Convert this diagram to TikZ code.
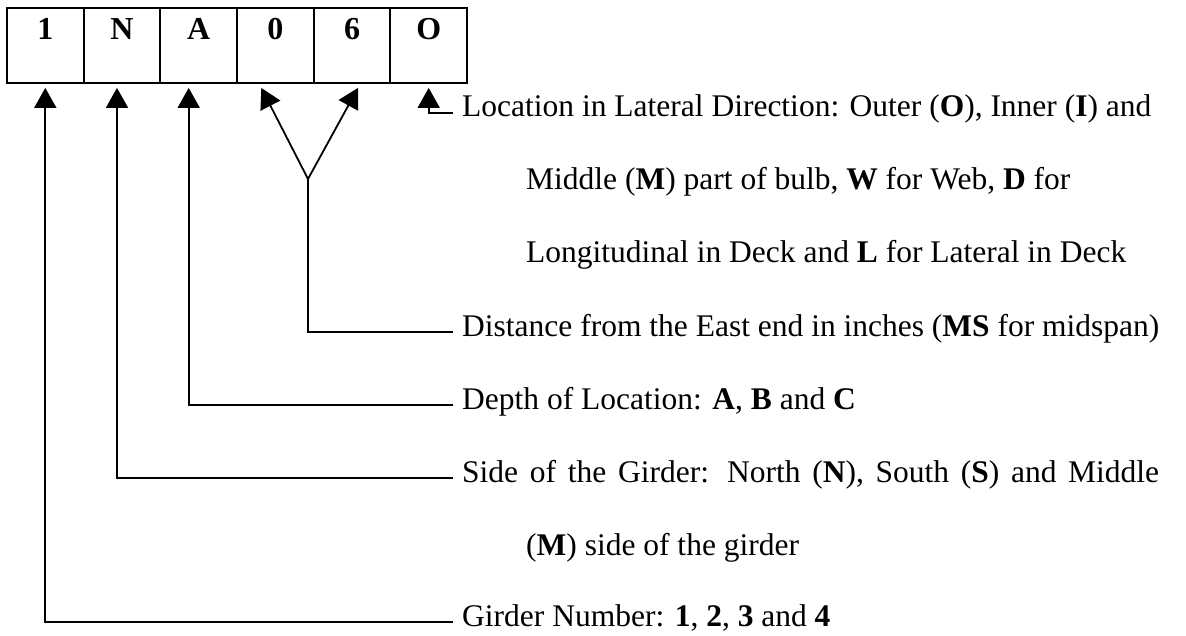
\documentclass[tikz,border=0pt]{standalone}
\usepackage{fontspec}
\setmainfont{Liberation Serif}
\usetikzlibrary{arrows.meta}
\begin{document}
\begin{tikzpicture}[x=1pt,y=-1pt,
  cell/.style={draw,line width=1.8pt,minimum width=76.67pt,minimum height=75pt,inner sep=0pt},
  celltext/.style={anchor=base,inner sep=0pt,font=\fontsize{32}{36}\selectfont\bfseries},
  desc/.style={anchor=base west,inner sep=0pt,font=\fontsize{31.5}{36}\selectfont},
  conn/.style={line width=1.8pt},
  arr/.style={line width=1.8pt,-{Triangle[length=20pt,width=22pt]}}]
\useasboundingbox (0,0) rectangle (1186,636);
% cells
\node[cell] (c1) at (45.3,45.5) {};
\node[cell] (c2) at (122,45.5) {};
\node[cell] (c3) at (198.7,45.5) {};
\node[cell] (c4) at (275.3,45.5) {};
\node[cell] (c5) at (352,45.5) {};
\node[cell] (c6) at (428.7,45.5) {};
\node[celltext] (t1) at (45.3,40) {1};
\node[celltext] (t2) at (122,40) {N};
\node[celltext] (t3) at (198.7,40) {A};
\node[celltext] (t4) at (275.3,40) {0};
\node[celltext] (t5) at (352,40) {6};
\node[celltext] (t6) at (428.7,40) {O};
% descriptions
\node[desc] (g1) at (462,117) {Location in Lateral Direction: Outer (\textbf{O}), Inner (\textbf{I}) and};
\node[desc] (g1b) at (526,190) {Middle (\textbf{M}) part of bulb, \textbf{W} for Web, \textbf{D} for};
\node[desc] (g1c) at (526,263) {Longitudinal in Deck and \textbf{L} for Lateral in Deck};
\node[desc] (g2) at (462,336) {Distance from the East end in inches (\textbf{MS} for midspan)};
\node[desc] (g3) at (462,409) {Depth of Location: \textbf{A}, \textbf{B} and \textbf{C}};
\node[desc] (g4) at (462,482) {\makebox[697pt][s]{Side of the Girder: North (\textbf{N}), South (\textbf{S}) and Middle}};
\node[desc] (g4b) at (526,555) {(\textbf{M}) side of the girder};
\node[desc] (g5) at (462,626) {Girder Number: \textbf{1}, \textbf{2}, \textbf{3} and \textbf{4}};
% connectors
\coordinate (fork) at (308,179);
\draw[arr] ([xshift=-9pt,yshift=4pt]g1.base west) -| ([yshift=-4pt]c6.south);
\draw[conn] ([xshift=-9pt,yshift=4pt]g2.base west) -| (fork);
\draw[arr] (fork) -- ([xshift=-14pt,yshift=-4pt]c4.south);
\draw[arr] (fork) -- ([xshift=6pt,yshift=-4pt]c5.south);
\draw[arr] ([xshift=-9pt,yshift=4pt]g3.base west) -| ([xshift=-10pt,yshift=-4pt]c3.south);
\draw[arr] ([xshift=-9pt,yshift=4pt]g4.base west) -| ([xshift=-5pt,yshift=-4pt]c2.south);
\draw[arr] ([xshift=-9pt,yshift=4pt]g5.base west) -| ([yshift=-4pt]c1.south);
\end{tikzpicture}
\end{document}
